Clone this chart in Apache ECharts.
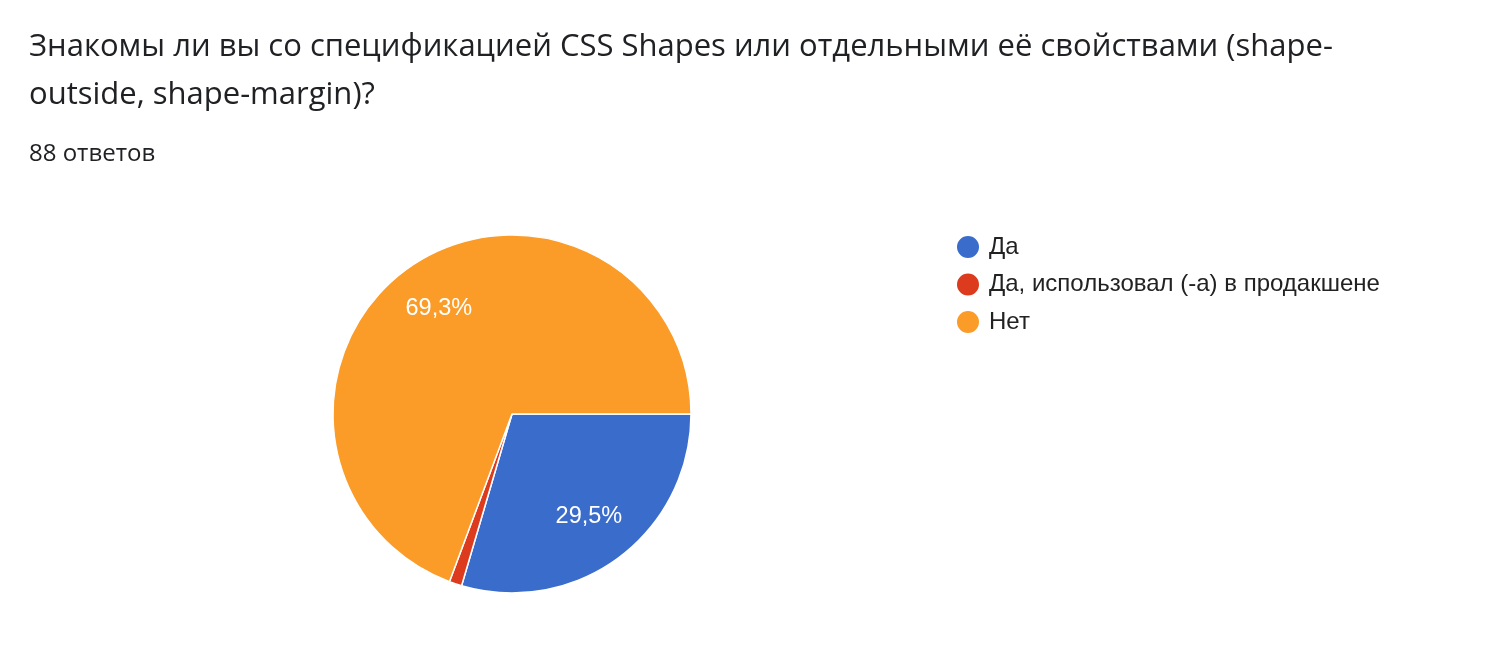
<!DOCTYPE html>
<html><head><meta charset="utf-8">
<script src="https://cdn.jsdelivr.net/npm/echarts@6/dist/echarts.min.js"></script>
<style>html,body{margin:0;padding:0;background:#fff}#c{width:1492px;height:646px}</style>
</head><body><div id="c"></div>
<script>
const titleText = 'Знакомы ли вы со спецификацией CSS Shapes или отдельными её свойствами (shape-\noutside, shape-margin)?';
const subText = '88 ответов';
const categories = ['Да', 'Да, использовал (-а) в продакшене', 'Нет'];
const values = [26, 1, 61];
const colors = ['#3a6ccc', '#dc3b1e', '#fb9b28'];
const hideLabel = [false, true, false];

const total = values.reduce((a, b) => a + b, 0);
const fmt = p => (p.value / total * 100).toFixed(1).replace('.', ',') + '%';
const center = [512, 414];
const R = 179;

const chart = echarts.init(document.getElementById('c'), null, {renderer: 'canvas'});
chart.setOption({
  animation: false,
  title: [
    {text: titleText, left: 24, top: 18,
     textStyle: {fontFamily: 'Open Sans', fontSize: 31, fontWeight: 'normal', color: '#202124', lineHeight: 48}},
    {text: subText, left: 24, top: 137,
     textStyle: {fontFamily: 'Open Sans', fontSize: 24, fontWeight: 'normal', color: '#202124', lineHeight: 24}}
  ],
  legend: {
    orient: 'vertical', left: 950, top: 229,
    icon: 'circle', itemWidth: 32, itemHeight: 24, itemGap: 11.5, symbolKeepAspect: true,
    data: categories,
    textStyle: {fontFamily: 'Liberation Sans', fontSize: 24, color: '#222', lineHeight: 24}
  },
  series: [
    {
      type: 'pie', center: center, radius: R, startAngle: 0, clockwise: true,
      avoidLabelOverlap: false,
      itemStyle: {borderColor: '#fff', borderWidth: 1.5},
      label: {show: false}, labelLine: {show: false},
      data: categories.map((n, i) => ({name: n, value: values[i], itemStyle: {color: colors[i]}}))
    },
    {
      type: 'pie', center: center, radius: [R * 0.4, R], startAngle: 0, clockwise: true,
      silent: true, legendHoverLink: false,
      itemStyle: {color: 'rgba(0,0,0,0)', borderWidth: 0},
      label: {position: 'inside', formatter: fmt, color: '#fff', fontFamily: 'Liberation Sans', fontSize: 23.5},
      labelLine: {show: false},
      data: categories.map((n, i) => ({name: n + ' ', value: values[i], label: {show: !hideLabel[i]}}))
    }
  ]
});
</script></body></html>
